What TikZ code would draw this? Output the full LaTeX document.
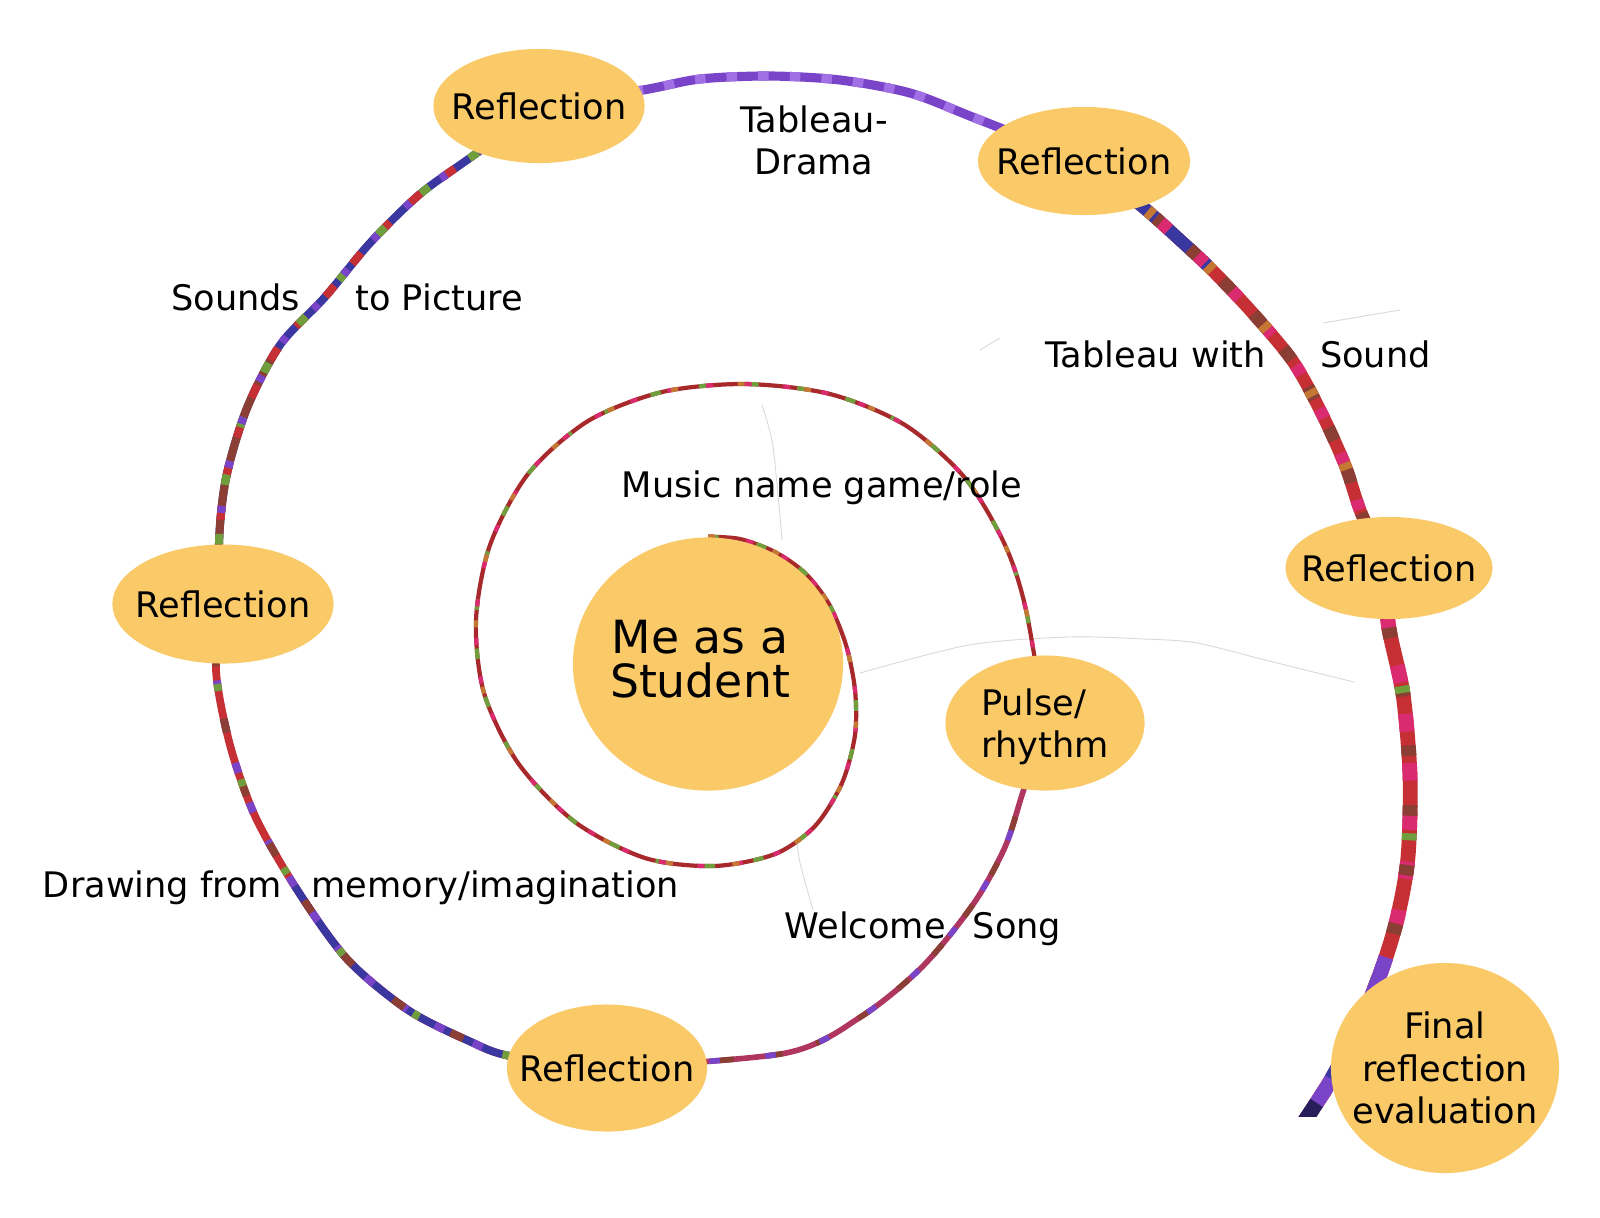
\documentclass[tikz,border=0pt]{standalone}
\usepackage{fontspec}
\setmainfont{DejaVu Sans}
\usetikzlibrary{shapes.geometric,backgrounds}

\definecolor{bubblefill}{RGB}{250,202,105}
\definecolor{yarnviolet}{RGB}{122,68,200}
\definecolor{yarnlilac}{RGB}{160,112,228}
\definecolor{yarnblue}{RGB}{58,56,160}
\definecolor{yarnred}{RGB}{198,48,52}
\definecolor{yarnmag}{RGB}{218,42,112}
\definecolor{yarngreen}{RGB}{112,158,60}
\definecolor{yarnorange}{RGB}{196,120,52}
\definecolor{yarnbrown}{RGB}{138,62,52}
\definecolor{yarnnavy}{RGB}{40,30,90}

\tikzset{
  bubble/.style={ellipse, fill=bubblefill, inner sep=0pt},
  phrase/.style={font=\fontsize{10}{12}\selectfont, inner sep=0pt, align=center},
  yarn/.style 2 args={draw=#1, line width=#2, line join=round},
  twist/.style 2 args={postaction={draw=#1, dash pattern=#2}},
  faint/.style={gray!30, line width=0.25pt},
}

\begin{document}
\begin{tikzpicture}[x=0.01cm, y=-0.01cm]
\useasboundingbox (0,0) rectangle (1600,1217);

% stations of the spiral
\node[bubble, minimum width=2.70cm, minimum height=2.53cm] (student) at (708,664) {};
\node[bubble, minimum width=1.99cm, minimum height=1.35cm] (pulse) at (1045,723) {};
\node[bubble, minimum width=2.00cm, minimum height=1.27cm] (refB) at (607,1068) {};
\node[bubble, minimum width=2.21cm, minimum height=1.19cm] (refL) at (223,604) {};
\node[bubble, minimum width=2.11cm, minimum height=1.14cm] (refTL) at (539,106) {};
\node[bubble, minimum width=2.12cm, minimum height=1.08cm] (refTR) at (1084,161) {};
\node[bubble, minimum width=2.07cm, minimum height=1.02cm] (refR) at (1389,568) {};
\node[bubble, minimum width=2.28cm, minimum height=2.10cm] (final) at (1445,1068) {};

% texts in the bubbles
\node[phrase, font=\fontsize{13}{12.5}\selectfont] (studenttext) at (700,659) {Me as a\\Student};
\node[phrase, align=left] (pulsetext) at (1045,727) {Pulse/\\rhythm};
\node[phrase] (refBtext) at (refB) {Reflection};
\node[phrase] (refLtext) at (refL) {Reflection};
\node[phrase] (refTLtext) at (refTL) {Reflection};
\node[phrase] (refTRtext) at (refTR) {Reflection};
\node[phrase] (refRtext) at (refR) {Reflection};
\node[phrase] (finaltext) at (final) {Final\\reflection\\evaluation};

% activities along the way
\node[phrase] (music) at (822,488) {Music name game/role};
\node[phrase] (welcome) at (923,929) {Welcome\hspace{0.16cm} Song};
\node[phrase] (drawing) at (361,888) {Drawing from\hspace{0.18cm} memory/imagination};
\node[phrase] (sounds) at (347,297) {Sounds\hspace{0.44cm} to Picture};
\node[phrase] (tabdrama) at (814,140) {Tableau-\\Drama};
\node[phrase] (tabsound) at (1238,354) {Tableau with\hspace{0.43cm} Sound};

\coordinate (tail) at (1300,1128);

\begin{pgfonlayer}{background}
\fill[white] (0,0) rectangle (1600,1217);
% pencil traces
\draw[faint] plot[smooth] coordinates {(860,673) (969,645) (1069,637) (1144,639) (1197,643) (1269,661) (1354,682)};
\draw[faint] plot[smooth] coordinates {(762,405) (773,447) (782,540)};
\draw[faint] plot[smooth] coordinates {(797,840) (800,863) (813,910)};
\draw[faint] (980,350) -- (1000,338);
\draw[faint] (1323,323) -- (1400,310);

% inner turn
\draw[yarn={yarnred!85!black}{1.2pt}, twist={yarngreen}{on 3pt off 11pt}, twist={yarnmag}{on 2pt off 9pt}, twist={yarnorange}{on 2pt off 17pt}]
  plot[smooth] coordinates {(student.north) (740,539) (775,552) (805,573) (829,604) (846,645) (855,690) (855,735) (842,783) (815,826) (775,854) (714,866) (645,858) (575,822) (518,763) (484,693) (476,620) (490,545) (528,474) (588,421) (662,392) (745,384) (830,394) (905,425) (965,478) (1005,545) (1026,610) (pulse.center)};
\draw[yarn={yarnred!70!yarnviolet}{1.6pt}, twist={yarnbrown}{on 4pt off 10pt}, twist={yarnviolet}{on 3pt off 13pt}]
  plot[smooth] coordinates {(pulse.center) (1022,795) (1005,847) (974,903) (923,966) (862,1016) (786,1053) (refB.center)};
% outer turn
\draw[yarn={yarnred}{2.2pt}, twist={yarnblue}{on 108pt off 2000pt}, twist={yarnviolet}{on 3pt off 9pt}, twist={yarnbrown}{on 4pt off 15pt, dash phase=110pt}, twist={yarngreen}{on 2pt off 26pt}]
  plot[smooth] coordinates {(refB.center) (510,1056) (469,1041) (408,1010) (347,959) (296,888) (255,816) (230,745) (216,670) (refL.center)};
\draw[yarn={yarnblue}{2.3pt}, twist={yarnbrown}{on 76pt off 2000pt}, twist={yarnred}{on 4pt off 8pt}, twist={yarngreen}{on 3pt off 14pt}, twist={yarnviolet}{on 2pt off 11pt}]
  plot[smooth] coordinates {(refL.center) (219,544) (226,478) (247,408) (280,345) (325,297) (370,243) (420,194) (474,155) (refTL.center)};
\draw[yarn={yarnviolet}{2.6pt}, twist={yarnlilac}{on 3pt off 6pt}]
  plot[smooth] coordinates {(refTL.center) (643,90) (700,79) (770,76) (840,80) (910,93) (975,118) (refTR.center)};
\draw[yarn={yarnred}{3.6pt}, twist={yarnblue}{on 46pt off 2000pt}, twist={yarnbrown}{on 4pt off 9pt}, twist={yarnmag}{on 3pt off 11pt}, twist={yarnorange}{on 2pt off 21pt}]
  plot[smooth] coordinates {(refTR.center) (1143,207) (1180,240) (1210,268) (1250,310) (1292,360) (1320,410) (1345,465) (1362,515) (refR.center)};
\begin{scope}
\clip (0,0) rectangle (1600,1116);
\draw[yarn={yarnred}{4.2pt}, twist={yarnmag}{on 5pt off 9pt}, twist={yarnbrown}{on 3pt off 14pt}, twist={yarngreen}{on 2pt off 40pt, dash phase=-34pt}, twist={yarnviolet}{on 0pt off 112pt on 2000pt}, twist={yarnblue}{on 0pt off 128pt on 22pt off 2000pt}, twist={yarnnavy}{on 0pt off 158pt on 2000pt}]
  plot[smooth] coordinates {(refR.center) (1388,622) (1403,694) (1410,776) (1408,857) (1398,915) (1385,960) (1368,1005) (1350,1045) (1328,1085) (tail)};
\end{scope}
\end{pgfonlayer}
\end{tikzpicture}
\end{document}
